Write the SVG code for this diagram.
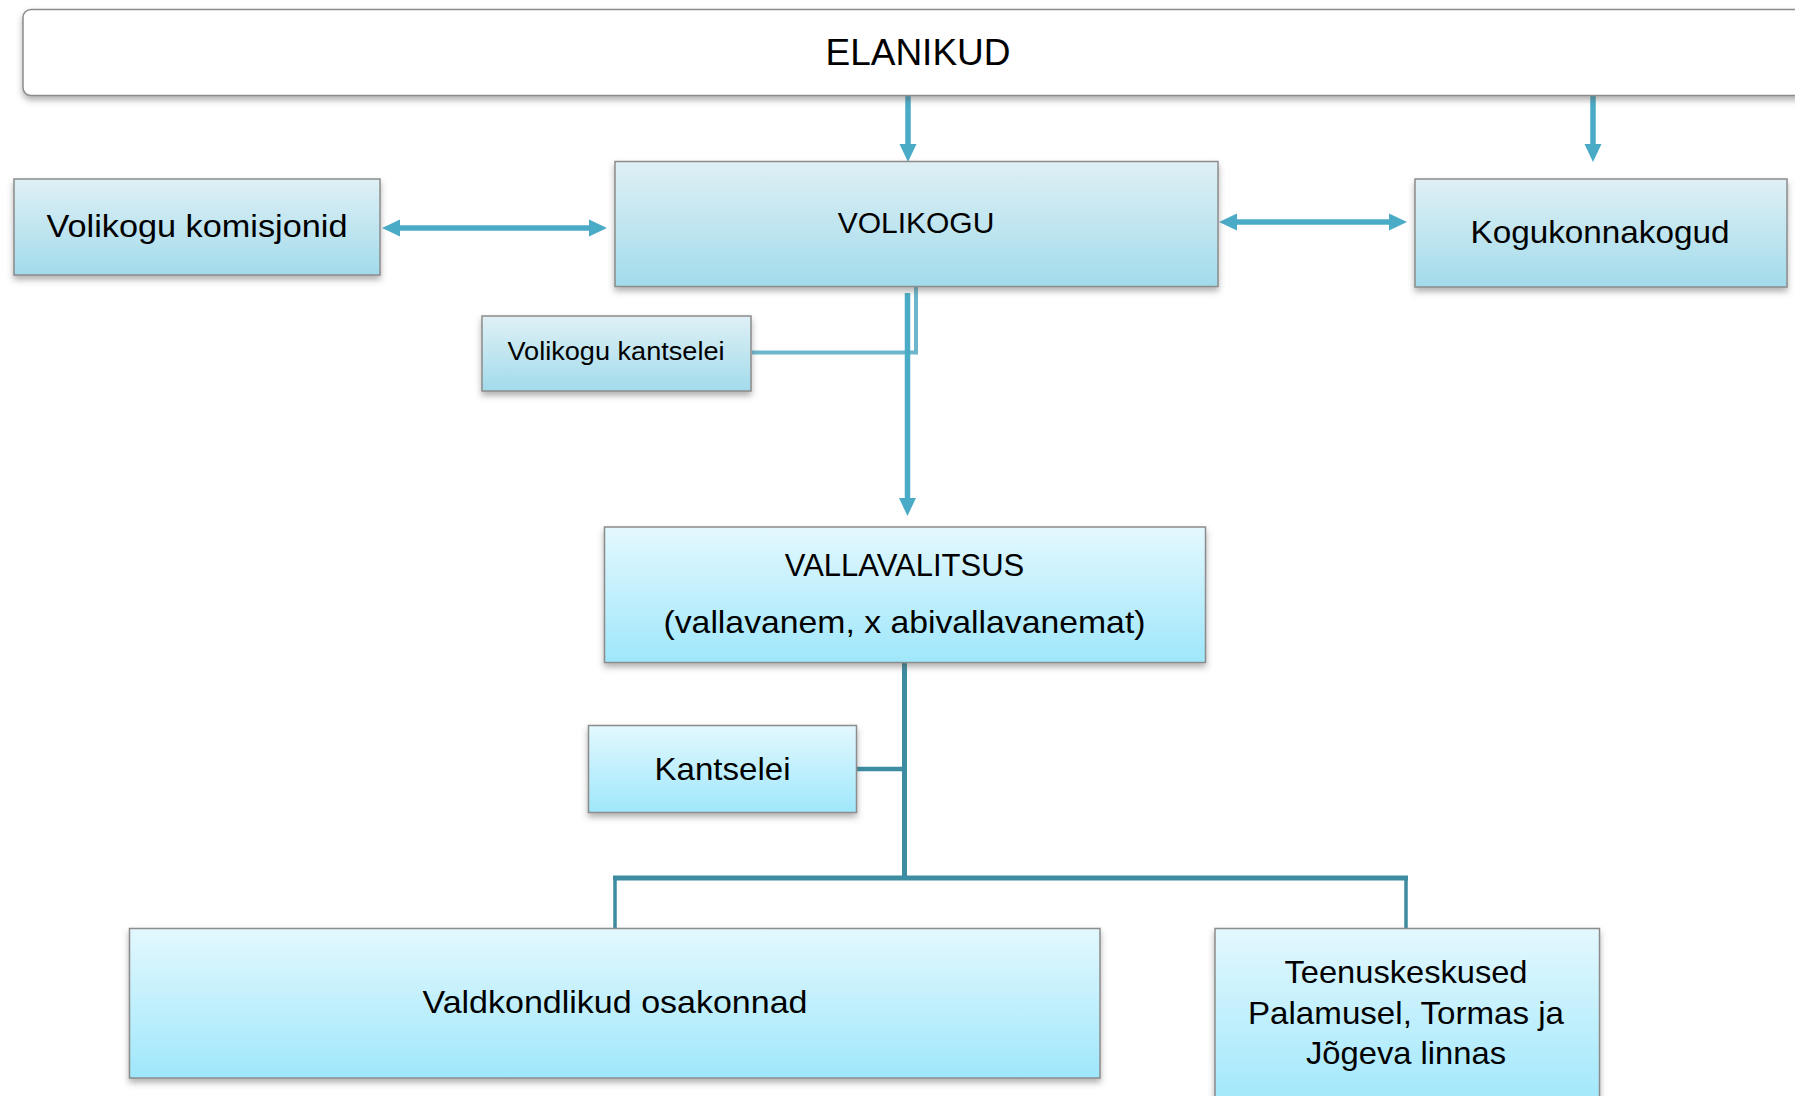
<svg xmlns="http://www.w3.org/2000/svg" width="1795" height="1096" viewBox="0 0 1795 1096">
  <defs>
    <linearGradient id="gTop" x1="0" y1="0" x2="0" y2="1">
      <stop offset="0" stop-color="#dff0f5"/>
      <stop offset="1" stop-color="#a2dbeb"/>
    </linearGradient>
    <linearGradient id="gLow" x1="0" y1="0" x2="0" y2="1">
      <stop offset="0" stop-color="#e3f8fe"/>
      <stop offset="1" stop-color="#9fe7fb"/>
    </linearGradient>
    <filter id="sh" x="-5%" y="-10%" width="110%" height="130%">
      <feDropShadow dx="0" dy="4" stdDeviation="3" flood-color="#555" flood-opacity="0.45"/>
    </filter>
    <marker id="ah" markerUnits="userSpaceOnUse" markerWidth="18" markerHeight="18" refX="0" refY="8.5" orient="auto-start-reverse" viewBox="0 0 18 17">
      <path d="M0,0 L18,8.5 L0,17 z" fill="#4aabc7"/>
    </marker>
    <style>
      .boxT { fill: url(#gTop); stroke: #8c8c8c; stroke-width: 1.5; filter: url(#sh); }
      .boxL { fill: url(#gLow); stroke: #8c8c8c; stroke-width: 1.5; filter: url(#sh); }
      .t { font-family: "Liberation Sans", Arial, sans-serif; fill: #000; text-anchor: middle; }
      .arr { stroke: #4aabc7; stroke-width: 5.5; fill: none; }
      .lt { stroke: #6db6cc; stroke-width: 4; fill: none; }
      .teal { stroke: #3d8ca1; fill: none; }
    </style>
  </defs>

  <g id="connectors">
    <line class="arr" x1="908" y1="96" x2="908" y2="144" marker-end="url(#ah)"/>
    <line class="arr" x1="1593" y1="96" x2="1593" y2="144" marker-end="url(#ah)"/>
    <line class="arr" x1="400" y1="228" x2="589" y2="228" marker-start="url(#ah)" marker-end="url(#ah)"/>
    <line class="arr" x1="1237" y1="222" x2="1389" y2="222" marker-start="url(#ah)" marker-end="url(#ah)"/>
    <path class="lt" d="M916,287 V352.5 H752"/>
    <line class="arr" x1="907.5" y1="293" x2="907.5" y2="498" marker-end="url(#ah)"/>
    <path class="teal" stroke-width="5" d="M904.5,663 V878"/>
    <path class="teal" stroke-width="4.5" d="M856,769 H904"/>
    <path class="teal" stroke-width="5" d="M613,878 H1408"/>
    <path class="teal" stroke-width="3.5" d="M615,878 V929 M1406,878 V929"/>
  </g>

  <g id="elanikud">
    <rect x="23" y="9.5" width="1800" height="86" rx="8" fill="#fff" stroke="#8c8c8c" stroke-width="1.5" filter="url(#sh)"/>
    <text class="t" x="918" y="65" font-size="37">ELANIKUD</text>
  </g>

  <g id="volikogu-komisjonid">
    <rect class="boxT" x="14" y="179" width="366" height="96"/>
    <text class="t" x="197" y="237" font-size="32" textLength="301" lengthAdjust="spacingAndGlyphs">Volikogu komisjonid</text>
  </g>

  <g id="volikogu">
    <rect class="boxT" x="615" y="161.5" width="603" height="125"/>
    <text class="t" x="916" y="233" font-size="30">VOLIKOGU</text>
  </g>

  <g id="kogukonnakogud">
    <rect class="boxT" x="1415" y="179" width="372" height="108"/>
    <text class="t" x="1600" y="243" font-size="32" textLength="259" lengthAdjust="spacingAndGlyphs">Kogukonnakogud</text>
  </g>

  <g id="volikogu-kantselei">
    <rect class="boxT" x="482" y="316" width="269" height="75"/>
    <text class="t" x="616" y="360" font-size="26" textLength="217" lengthAdjust="spacingAndGlyphs">Volikogu kantselei</text>
  </g>

  <g id="vallavalitsus">
    <rect class="boxL" x="604.5" y="527" width="601" height="135.5"/>
    <text class="t" x="904.5" y="576" font-size="31">VALLAVALITSUS</text>
    <text class="t" x="904.5" y="633" font-size="32" textLength="482" lengthAdjust="spacingAndGlyphs">(vallavanem, x abivallavanemat)</text>
  </g>

  <g id="kantselei">
    <rect class="boxL" x="588.5" y="725.5" width="268" height="87"/>
    <text class="t" x="722.5" y="779.5" font-size="32" textLength="136" lengthAdjust="spacingAndGlyphs">Kantselei</text>
  </g>

  <g id="valdkondlikud-osakonnad">
    <rect class="boxL" x="129.5" y="928.5" width="970.5" height="149.5"/>
    <text class="t" x="615" y="1013" font-size="32" textLength="385" lengthAdjust="spacingAndGlyphs">Valdkondlikud osakonnad</text>
  </g>

  <g id="teenuskeskused">
    <rect class="boxL" x="1215" y="928.5" width="384.5" height="180"/>
    <text class="t" x="1406" y="983" font-size="32" textLength="243" lengthAdjust="spacingAndGlyphs">Teenuskeskused</text>
    <text class="t" x="1406" y="1024" font-size="32" textLength="316" lengthAdjust="spacingAndGlyphs">Palamusel, Tormas ja</text>
    <text class="t" x="1406" y="1064" font-size="32" textLength="200" lengthAdjust="spacingAndGlyphs">Jõgeva linnas</text>
  </g>
</svg>
